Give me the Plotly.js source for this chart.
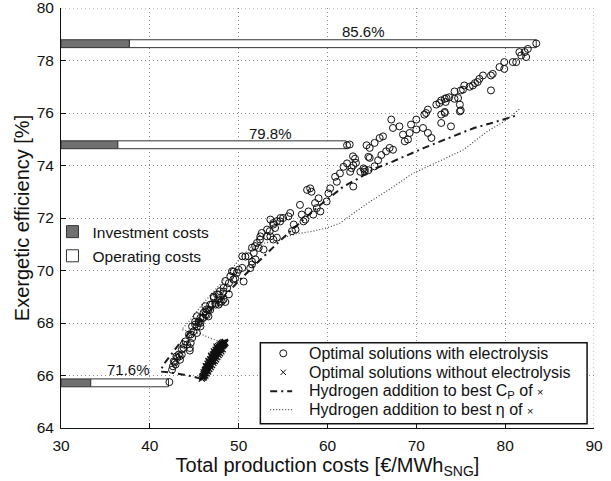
<!DOCTYPE html>
<html>
<head>
<meta charset="utf-8">
<script src="https://cdn.plot.ly/plotly-3.0.1.min.js"></script>
<style>html,body{margin:0;padding:0;background:#fff;}#chart{width:611px;height:481px;}</style>
</head>
<body>
<div id="chart"></div>
<script>
// Optimal solutions with electrolysis (circles)
var elecCost = [42.2,42.5,42.6,42.7,42.8,43.0,43.07,43.4,43.26,43.6,43.6,43.8,43.8,44.0,44.2,44.5,44.5,44.6,44.6,44.76,44.4,44.9,45.3,45.3,45.7,45.5,45.7,45.1,45.9,46.0,46.4,46.6,46.25,46.8,46.8,47.4,47.9,48.5,42.9,43.37,
50.75,51.5,51.3,50.0,49.44,49.6,50.56,48.9,48.7,48.3,47.75,48.1,47.37,47.0,46.6,46.25,45.5,45.1,44.75,47.75,47.2,53.2,53.57,53.9,54.3,54.7,53.57,52.44,52.06,52.25,51.7,51.1,50.4,50.4,49.8,49.25,49.4,49.06,48.5,48.3,47.9,47.2,47.7,46.4,46.06,45.7,45.3,47.56,46.25,48.3,48.9,51.5,51.9,52.8,53.9,
62.2,64.4,64.6,63.1,62.9,63.7,64.2,64.6,62.55,62.2,61.8,61.4,60.86,61.05,60.3,60.1,59.9,57.7,58.05,58.2,59.0,58.6,58.8,59.2,58.4,57.5,57.1,57.86,56.9,55.8,55.6,55.0,54.67,53.9,54.1,53.5,56.2,56.4,56.0,57.3,53.2,52.4,52.6,51.85,51.5,54.3,62.9,64.05,
62.5,62.87,62.7,63.2,64.2,64.75,65.3,65.7,66.06,64.75,65.3,65.87,66.25,66.6,66.99,67.37,67.18,67.37,68.1,68.5,68.7,69.06,69.25,69.4,70.0,70.0,70.75,71.3,71.7,71.1,71.3,70.9,72.25,72.6,73.4,72.8,73.2,72.8,73.9,74.3,74.7,74.9,74.9,75.25,76.0,76.6,
83.5,82.55,82.2,81.8,81.6,82.36,81.24,80.86,79.9,79.9,79.36,78.6,78.4,77.5,77.1,76.9,76.36,75.4,75.0,73.7,73.2,72.8,73.3,74.3,78.4,75.0,73.2];
var elecEff = [65.75,66.22,66.35,66.54,66.5,66.73,66.67,66.6,66.8,66.8,66.99,67.05,67.18,67.3,67.18,67.05,66.95,67.24,67.56,67.43,67.56,67.68,67.62,67.86,67.87,68.0,68.0,68.05,68.19,68.19,68.3,68.25,68.44,68.5,68.7,68.7,68.78,68.8,66.42,66.73,
70.53,70.34,70.09,70.03,69.96,69.7,69.58,69.52,69.33,69.2,69.08,68.82,68.76,68.7,68.5,68.32,68.06,67.94,67.87,68.7,69.01,71.56,71.3,71.75,71.88,72.0,71.94,71.3,71.05,70.86,70.67,70.54,70.54,70.1,69.91,69.97,69.66,69.78,69.6,69.34,69.21,68.96,68.9,68.52,68.39,68.2,68.26,69.09,68.64,68.9,69.09,70.23,70.42,70.8,71.18,
74.77,74.77,74.33,74.26,74.01,73.76,73.76,73.82,73.76,74.08,73.95,73.7,73.57,73.38,73.13,72.94,72.63,73.07,73.13,73.0,72.75,72.57,72.38,72.25,72.13,71.94,72.13,72.25,72.5,72.19,72.06,72.0,71.87,71.81,71.62,71.5,71.75,71.56,71.5,71.87,71.3,71.18,71.43,70.93,70.87,71.25,73.2,73.89,
74.8,74.35,73.9,74.1,73.85,74.29,73.97,74.2,74.4,74.67,74.86,75.05,75.11,74.54,74.67,74.6,75.75,75.43,75.49,75.18,74.92,74.99,75.24,75.56,75.75,75.37,75.43,75.24,75.05,76.0,76.13,75.94,76.32,76.38,76.57,75.94,76.0,75.62,75.49,76.82,76.57,76.32,76.06,76.89,77.0,77.14,
78.65,78.44,78.32,78.19,78.32,78.13,77.94,77.94,77.94,77.68,77.75,77.49,77.43,77.43,77.3,77.18,77.05,77.05,76.86,76.6,76.54,76.48,76.42,76.54,76.86,76.1,76.04];

// Optimal solutions without electrolysis (crosses)
var noElecCost = [45.85,45.95,46.0,46.05,46.1,46.15,46.2,46.25,46.3,46.35,46.4,46.45,46.5,46.55,46.6,46.65,46.7,46.75,46.8,46.85,46.9,46.95,47.0,47.05,47.1,47.15,47.2,47.25,47.3,47.35,47.4,47.45,47.5,47.55,47.6,47.65,47.7,47.75,47.8,47.85,47.9,47.95,48.0,48.05,48.1,48.15,48.2,48.25,48.3,48.35,48.4,48.5,46.3,46.6,46.9,47.2,47.5,46.5,46.8,47.1,47.4,47.7,48.0,
45.9,46.05,46.2,46.35,46.5,46.65,46.8,46.95,47.1,47.25,47.4,47.55,47.7,47.85,48.0,48.15,48.3,48.45,46.1,46.25,46.4,46.55,46.7,46.85,47.0,47.15,47.3,47.45,47.6,47.75,47.9,48.05,48.2];
var noElecEff = [65.88,65.92,65.98,66.05,66.0,66.1,66.15,66.08,66.2,66.25,66.18,66.3,66.35,66.28,66.42,66.38,66.48,66.52,66.45,66.58,66.55,66.62,66.68,66.6,66.72,66.7,66.78,66.82,66.75,66.85,66.9,66.82,66.92,66.96,66.9,67.0,67.02,66.96,67.05,67.08,67.02,67.1,67.12,67.08,67.15,67.18,67.12,67.2,67.16,67.22,67.2,67.24,66.35,66.55,66.75,66.92,67.1,66.2,66.38,66.55,66.72,66.88,67.0,
65.95,66.12,66.22,66.32,66.45,66.5,66.62,66.7,66.8,66.88,66.98,67.05,67.12,67.16,67.2,67.24,67.27,67.28,65.93,66.0,66.08,66.15,66.25,66.32,66.4,66.48,66.55,66.62,66.7,66.78,66.85,66.92,67.0];

// Hydrogen addition to best C_P of x (dash-dot)
var h2CpCost = [45.8,44.9,43.8,42.6,41.2,41.5,42.3,43.3,44.5,45.7,47.0,48.5,50.0,51.5,53.0,54.7,56.0,57.5,59.0,60.5,61.8,63.6,65.3,67.2,68.9,70.8,72.7,74.6,76.5,78.3,80.1,81.2];
var h2CpEff  = [65.87,65.96,66.03,66.1,66.15,66.4,66.75,67.2,67.65,68.1,68.55,69.05,69.6,70.1,70.6,71.15,71.55,72.0,72.45,72.85,73.2,73.53,73.88,74.13,74.39,74.66,74.92,75.17,75.43,75.6,75.8,75.9];

// Hydrogen addition to best eta of x (dotted)
var h2EtaCost = [48.6,47.2,45.6,43.6,44.5,46.0,48.0,50.0,51.3,53.0,54.6,55.5,56.5,58.4,59.9,61.4,63.0,64.8,67.0,69.6,72.5,75.3,78.0,80.0,81.6];
var h2EtaEff  = [67.24,67.37,67.6,67.75,68.1,68.75,69.5,70.4,70.87,71.05,71.16,71.3,71.4,71.5,71.62,71.8,72.2,72.63,73.1,73.7,74.15,74.6,75.3,75.7,76.15];

// Cost breakdown bars
var barEff    = [78.64, 74.79, 65.72];
var barInvest = [37.7, 36.4, 33.35];
var barTotal  = [83.5, 62.1, 42.1];
var barLabels = ['85.6%', '79.8%', '71.6%'];
var labelCost = [64.0, 53.6, 37.6];
var labelEff  = [79.09, 75.21, 66.24];
var costStart = 30;

// Legend entries (main legend)
var legendNames = ['Optimal solutions with electrolysis',
                   'Optimal solutions without electrolysis',
                   'Hydrogen addition to best C<sub>P</sub> of <span style="font-size:11px">×</span>',
                   'Hydrogen addition to best η of <span style="font-size:11px">×</span>'];

var FONT = 'Liberation Sans, Arial, sans-serif';
var CPDASH = '7px,4px,2px,4px';
var ETADASH = '1px,2px';

var traces = [
  {type:'bar', orientation:'h', name:'Investment costs', legend:'legend2', legendgroup:'a',
   y: barEff, base: barEff.map(function(){return costStart;}),
   x: barInvest.map(function(v){return v - costStart;}), width: 0.3,
   marker:{color:'#707070', line:{color:'#333', width:1}}, hoverinfo:'skip'},
  {type:'bar', orientation:'h', name:'Operating costs', legend:'legend2', legendgroup:'b',
   y: barEff, base: barInvest,
   x: barTotal.map(function(v,i){return v - barInvest[i];}), width: 0.3,
   marker:{color:'#ffffff', line:{color:'#333', width:1}}, hoverinfo:'skip'},
  {type:'scatter', mode:'lines', name:legendNames[2], showlegend:false,
   x: h2CpCost, y: h2CpEff, line:{color:'#1a1a1a', width:2, dash:CPDASH}, hoverinfo:'skip'},
  {type:'scatter', mode:'lines', name:legendNames[3], showlegend:false,
   x: h2EtaCost, y: h2EtaEff, line:{color:'#444', width:1.2, dash:ETADASH}, hoverinfo:'skip'},
  {type:'scatter', mode:'markers', name:legendNames[0], showlegend:false,
   x: elecCost, y: elecEff,
   marker:{symbol:'circle-open', size:7, color:'#111', line:{width:1}}, hoverinfo:'skip'},
  {type:'scatter', mode:'markers', name:legendNames[1], showlegend:false,
   x: noElecCost, y: noElecEff,
   marker:{symbol:'x-thin-open', size:6, color:'#111', line:{width:1.3, color:'#111'}}, hoverinfo:'skip'}
];

var annotations = barLabels.map(function(t,i){
  return {text:t, x:labelCost[i], y:labelEff[i], xref:'x', yref:'y', showarrow:false,
          font:{family:FONT, size:15, color:'#111'}};
});

// main legend, drawn in paper coordinates
var legX0 = 0.374, legX1 = 0.987, legY0 = 0.0102, legY1 = 0.203;
var rowY = [0.1778, 0.1326, 0.0875, 0.0437];
var symX = 0.417, symL = 0.3925, symR = 0.4337, textX = 0.462;
legendNames.forEach(function(n,i){
  annotations.push({text:n, x:textX, y:rowY[i], xref:'paper', yref:'paper', xanchor:'left', yanchor:'middle',
                    showarrow:false, font:{family:FONT, size:16, color:'#111'}});
});

var shapes = [
  {type:'line', xref:'x', yref:'y', x0:30, x1:90, y0:80, y1:80, layer:'below', line:{color:'#888', width:1, dash:'1px,3px'}},
  {type:'line', xref:'x', yref:'y', x0:90, x1:90, y0:64, y1:80, layer:'below', line:{color:'#888', width:1, dash:'1px,3px'}},
  {type:'rect', xref:'paper', yref:'paper', x0:legX0, x1:legX1, y0:legY0, y1:legY1, layer:'above',
   fillcolor:'#fff', line:{color:'#111', width:1.5}},
  {type:'circle', xref:'paper', yref:'paper', xsizemode:'pixel', ysizemode:'pixel', xanchor:symX, yanchor:rowY[0],
   x0:-3.5, x1:3.5, y0:-3.5, y1:3.5, layer:'above', line:{color:'#111', width:1}},
  {type:'line', xref:'paper', yref:'paper', xsizemode:'pixel', ysizemode:'pixel', xanchor:symX, yanchor:rowY[1],
   x0:-2.7, x1:2.7, y0:-2.7, y1:2.7, layer:'above', line:{color:'#111', width:1}},
  {type:'line', xref:'paper', yref:'paper', xsizemode:'pixel', ysizemode:'pixel', xanchor:symX, yanchor:rowY[1],
   x0:-2.7, x1:2.7, y0:2.7, y1:-2.7, layer:'above', line:{color:'#111', width:1}},
  {type:'line', xref:'paper', yref:'paper', x0:symL, x1:symR, y0:rowY[2], y1:rowY[2], layer:'above',
   line:{color:'#1a1a1a', width:2, dash:CPDASH}},
  {type:'line', xref:'paper', yref:'paper', x0:symL, x1:symR, y0:rowY[3], y1:rowY[3], layer:'above',
   line:{color:'#444', width:1.2, dash:ETADASH}}
];

var axisCommon = {ticks:'inside', ticklen:5, tickcolor:'#111',
  showline:true, linecolor:'#111', linewidth:1, mirror:false,
  showgrid:true, gridcolor:'#888', griddash:'1px,3px', gridwidth:1, zeroline:false,
  tickfont:{size:15.5}, ticklabelstandoff:3, ticklabeloverflow:'allow'};

var layout = {
  width:611, height:481,
  margin:{l:61, r:17, t:8, b:53},
  paper_bgcolor:'#fff', plot_bgcolor:'#fff',
  font:{family:FONT, size:15, color:'#111'},
  barmode:'overlay',
  showlegend:true,
  xaxis:Object.assign({range:[30,90], dtick:10, tick0:30,
         title:{text:'Total production costs [€/MWh<sub>SNG</sub>]', font:{size:20}, standoff:1}}, axisCommon),
  yaxis:Object.assign({range:[64,80], dtick:2, tick0:64,
         title:{text:'Exergetic efficiency [%]', font:{size:20}, standoff:1}}, axisCommon),
  legend2:{x:-0.016, y:0.507, xanchor:'left', yanchor:'top', bgcolor:'rgba(0,0,0,0)',
           borderwidth:0, font:{size:15.5}, traceorder:'grouped', tracegroupgap:1},
  annotations: annotations,
  shapes: shapes
};

Plotly.newPlot('chart', traces, layout, {staticPlot:true, displayModeBar:false});
</script>
</body>
</html>
